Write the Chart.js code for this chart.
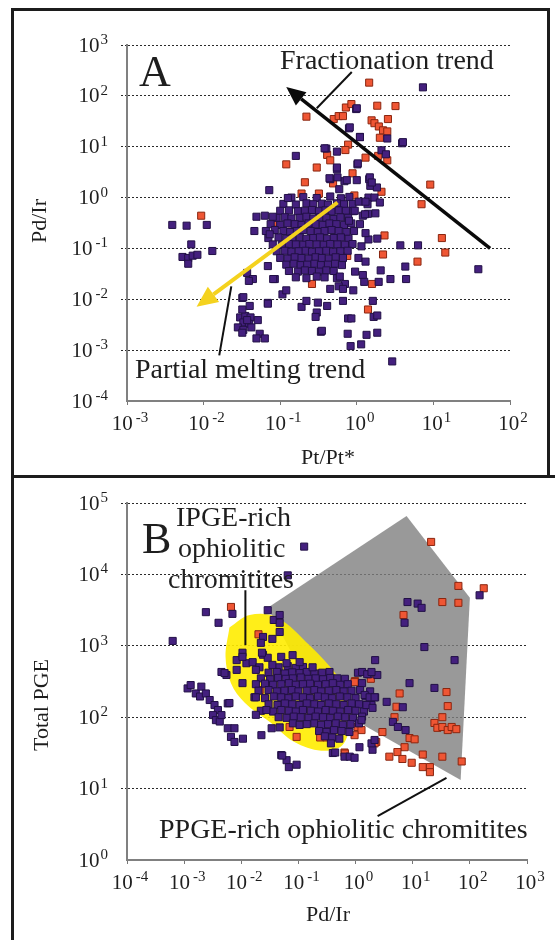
<!DOCTYPE html>
<html lang="en">
<head>
<meta charset="UTF-8">
<title>Pd/Ir vs Pt/Pt* and Total PGE vs Pd/Ir</title>
<script src="https://cdn.jsdelivr.net/npm/chart.js"></script>
<style>
  html, body { margin: 0; padding: 0; background: #fff; }
  #page { position: relative; width: 555px; height: 940px; overflow: hidden; }
  canvas { position: absolute; left: 0; }
  .rule { position: absolute; background: #1c1c1c; }
</style>
</head>
<body>
<div id="page">
  <canvas id="chartA" width="555" height="476" style="top:0"></canvas>
  <canvas id="chartB" width="555" height="462" style="top:478px"></canvas>
  <div class="rule" style="left:11px;top:8px;width:3px;height:932px"></div>
  <div class="rule" style="left:11px;top:8px;width:539px;height:3px"></div>
  <div class="rule" style="left:11px;top:475px;width:544px;height:3px"></div>
  <div class="rule" style="left:547px;top:8px;width:3px;height:468px"></div>
</div>

<script>
// ---- panel A: Pd/Ir against Pt/Pt* ----
const aXTicks = [1e-3, 1e-2, 1e-1, 1, 10, 100];
const aYTicks = [1e-4, 1e-3, 1e-2, 1e-1, 1, 10, 100, 1000];

const aPurple = [
  // dense core
  [0.14,1.0],[0.2,1.02],[0.3,0.98],[0.45,1.05],[0.62,0.97],[0.8,1.03],
  [0.11,0.75],[0.16,0.73],[0.22,0.77],[0.27,0.74],[0.35,0.76],[0.42,0.73],[0.55,0.77],[0.68,0.74],[0.88,0.75],
  [0.1,0.55],[0.13,0.56],[0.17,0.54],[0.21,0.55],[0.26,0.57],[0.32,0.54],[0.39,0.56],[0.47,0.53],[0.58,0.56],[0.72,0.55],[0.9,0.54],
  [0.09,0.4],[0.115,0.41],[0.14,0.39],[0.18,0.4],[0.22,0.42],[0.27,0.39],[0.33,0.41],[0.4,0.4],[0.5,0.38],[0.61,0.41],[0.77,0.4],
  [0.075,0.3],[0.1,0.29],[0.125,0.31],[0.155,0.3],[0.19,0.29],[0.235,0.31],[0.29,0.3],[0.36,0.29],[0.44,0.31],[0.54,0.3],[0.68,0.29],[0.85,0.31],
  [0.065,0.22],[0.085,0.23],[0.11,0.22],[0.135,0.21],[0.165,0.22],[0.2,0.23],[0.25,0.22],[0.31,0.21],[0.38,0.22],[0.47,0.23],[0.58,0.22],[0.73,0.21],[0.92,0.22],
  [0.07,0.16],[0.095,0.165],[0.12,0.155],[0.145,0.16],[0.18,0.165],[0.22,0.155],[0.27,0.16],[0.33,0.165],[0.41,0.155],[0.5,0.16],[0.62,0.165],[0.78,0.155],
  [0.08,0.12],[0.105,0.118],[0.13,0.122],[0.16,0.12],[0.2,0.118],[0.24,0.122],[0.3,0.12],[0.37,0.118],[0.45,0.122],[0.56,0.12],[0.7,0.118],[0.88,0.122],
  [0.09,0.088],[0.115,0.09],[0.14,0.086],[0.175,0.088],[0.215,0.09],[0.26,0.086],[0.32,0.088],[0.4,0.09],[0.49,0.086],[0.61,0.088],[0.76,0.09],
  [0.1,0.065],[0.125,0.063],[0.155,0.067],[0.19,0.065],[0.235,0.063],[0.29,0.067],[0.35,0.065],[0.43,0.063],[0.53,0.067],[0.66,0.065],
  [0.12,0.048],[0.15,0.05],[0.185,0.047],[0.225,0.048],[0.28,0.05],[0.34,0.047],[0.42,0.048],[0.52,0.05],[0.64,0.047],
  [0.13,0.036],[0.17,0.035],[0.21,0.037],[0.26,0.036],[0.32,0.035],[0.4,0.037],[0.5,0.036],
  [0.16,0.027],[0.22,0.026],[0.3,0.028],[0.38,0.027],[0.55,0.026],
  // upper spread
  [7.3,147],[0.98,55],[1.0,57],[0.79,23],[0.81,24],[1.1,15.6],[1.1,15.4],[2.5,14.5],[3.9,11.7],[4.0,12.3],
  [0.4,9.2],[0.38,9.3],[0.55,8.0],[2.1,8.5],[2.4,7.1],[0.16,6.6],[1.02,4.5],[1.03,4.7],[0.55,3.6],[0.55,3.9],
  [0.45,2.3],[0.69,2.1],[1.0,2.2],[1.45,2.3],[1.48,2.5],[0.44,2.4],[0.56,2.5],[0.74,2.2],[1.5,1.7],[1.83,1.58],[1.57,1.98],
  [0.59,1.46],[0.072,1.4],[0.126,0.98],[1.42,1.0],[1.7,1.0],[2.0,0.8],[1.38,0.74],[1.06,0.83],[1.3,0.83],
  [0.94,0.55],[1.2,0.44],[1.4,0.48],[0.79,0.35],[1.28,0.47],[1.75,0.49],
  // left groups
  [0.0039,0.29],[0.006,0.28],[0.011,0.29],[0.0069,0.12],[0.013,0.089],[0.0053,0.068],[0.0063,0.065],
  [0.0072,0.072],[0.0083,0.075],[0.0063,0.05],[0.049,0.42],[0.063,0.44],[0.08,0.42],[0.046,0.22],[0.073,0.19],
  [0.037,0.033],[0.044,0.025],[0.085,0.025],[0.069,0.0085],[0.032,0.0106],
  [0.03,0.0044],[0.035,0.0047],[0.041,0.0044],[0.051,0.0039],[0.033,0.0035],[0.039,0.0033],[0.028,0.0028],
  [0.033,0.0025],[0.042,0.0028],[0.032,0.0022],[0.037,0.0039],[0.054,0.0021],[0.063,0.0017],[0.049,0.0017],
  // right and lower spread
  [1.42,0.15],[1.85,0.156],[3.7,0.115],[6.3,0.115],[38.6,0.039],[4.3,0.044],[4.4,0.025],[2.75,0.025],
  [2.05,0.037],[1.93,0.022],[0.069,0.045],[0.081,0.025],[0.039,0.023],[0.107,0.0125],[0.12,0.015],
  [0.033,0.011],[0.069,0.0082],[0.04,0.0074],[0.032,0.0063],[0.19,0.0071],[0.22,0.0093],[0.31,0.0086],
  [0.3,0.0055],[0.41,0.0074],[0.29,0.0045],[0.34,0.0023],[0.66,0.0093],[0.77,0.0042],[0.85,0.0042],
  [0.76,0.0021],[0.83,0.0012],[1.14,0.0013],[1.34,0.002],[1.85,0.0022],[1.66,0.0045],[1.85,0.0048],
  [1.62,0.0093],[2.9,0.0006],[0.35,0.0024],
  [1.1,0.3],[1.3,0.2],[1.15,0.11],[1.05,0.065],[1.3,0.055],[0.95,0.035],[1.2,0.03],[0.7,0.02],
  [0.58,0.018],[0.9,0.015],[0.45,0.016],[0.66,0.016],[1.25,0.022],[0.6,0.028]
];

const aRed = [
  [1.45,182],[0.22,39],[0.5,35],[0.58,40],[0.66,40],[0.72,59],[0.85,69],[1.85,64],[3.2,63],
  [1.56,33],[1.7,29],[1.94,25],[2.2,21],[2.55,35],[2.5,20],[2.0,15],[0.77,11],[0.41,6.9],
  [0.45,5.4],[0.3,3.9],[0.12,4.5],[0.71,8.6],[1.3,6.1],[1.9,6.6],[2.5,5.4],[0.88,3.0],[0.21,2.0],
  [0.49,1.9],[9.1,1.8],[2.1,1.3],[0.93,1.1],[0.19,1.2],[0.32,1.2],[7.0,0.74],[0.0093,0.44],
  [0.087,0.32],[0.14,0.31],[2.3,0.18],[12.9,0.16],[14.3,0.083],[2.2,0.076],[0.75,0.071],
  [6.2,0.055],[1.58,0.02],[0.26,0.02],[1.4,0.0063]
];

// trend arrows and leader lines, in data units [Pt/Pt*, Pd/Ir]
const aFractionArrow = [[55, 0.1], [0.12, 149]];
const aMeltArrow = [[0.56, 0.8], [0.0081, 0.0071]];
const aFractionLeader = [[0.86, 295], [0.30, 57]];
const aMeltLeader = [[0.023, 0.018], [0.016, 0.00079]];

// ---- panel B: Total PGE against Pd/Ir ----
const bXTicks = [1e-4, 1e-3, 1e-2, 1e-1, 1, 10, 100, 1000];
const bYTicks = [1, 10, 100, 1000, 1e4, 1e5];

const bPurple = [
  // dense core
  [0.045,500],[0.065,520],[0.09,490],[0.12,505],
  [0.03,420],[0.042,430],[0.058,410],[0.078,425],[0.105,415],[0.14,430],[0.19,410],[0.26,420],[0.35,430],[1.1,420],[1.7,400],[2.4,390],
  [0.022,350],[0.032,340],[0.044,355],[0.06,345],[0.08,350],[0.11,360],[0.15,345],[0.2,350],[0.27,340],[0.36,355],[0.48,350],[0.65,345],
  [0.018,290],[0.026,295],[0.036,285],[0.05,290],[0.068,300],[0.09,285],[0.12,290],[0.16,295],[0.22,285],[0.3,290],[0.4,300],[0.54,285],[0.73,290],[1.3,300],
  [0.02,235],[0.03,240],[0.042,230],[0.057,235],[0.077,240],[0.1,230],[0.14,235],[0.19,240],[0.25,230],[0.34,235],[0.46,240],[0.62,230],[0.85,235],[1.2,240],[1.8,230],
  [0.017,190],[0.026,185],[0.037,195],[0.05,190],[0.067,185],[0.09,195],[0.12,190],[0.16,185],[0.22,195],[0.29,190],[0.39,185],[0.53,195],[0.72,190],[1.0,185],[1.5,195],[2.2,190],
  [0.03,152],[0.043,148],[0.058,156],[0.078,152],[0.105,148],[0.14,156],[0.19,152],[0.25,148],[0.34,156],[0.46,152],[0.62,148],[0.85,156],[1.15,152],[1.9,148],
  [0.022,123],[0.036,120],[0.05,126],[0.068,123],[0.09,120],[0.12,126],[0.165,123],[0.22,120],[0.3,126],[0.4,123],[0.54,120],[0.74,126],[1.0,123],[1.4,120],
  [0.045,100],[0.062,98],[0.083,102],[0.11,100],[0.15,98],[0.2,102],[0.27,100],[0.36,98],[0.49,102],[0.66,100],[0.9,98],[1.3,102],
  [0.08,82],[0.105,78],[0.14,80],[0.19,82],[0.25,78],[0.33,80],[0.45,82],[0.6,78],[0.82,80],[1.15,82],
  [0.23,64],[0.31,62],[0.42,66],[0.57,64],[0.78,62],
  [0.29,54],[0.39,52],[0.52,50],
  [0.37,43],
  // inside the yellow field
  [0.0105,800],[0.0083,630],[0.0123,570],[0.024,750],[0.0158,590],[0.0208,500],[0.029,680],[0.035,540],
  [0.05,700],[0.062,570],[0.079,740],[0.105,590],[0.177,500],[0.0105,700],[0.023,800],[0.018,460],
  [0.0083,460],[0.0105,300],[0.018,190],[0.0275,126],[0.018,108],[0.0225,56],[0.034,70],[0.047,72],
  [0.05,29.5],[0.062,25],[0.093,21.6],
  // left tail
  [0.00115,253],[0.0013,282],[0.0016,215],[0.002,268],[0.0019,195],[0.0024,215],[0.0028,174],
  [0.0034,148],[0.0039,126],[0.0032,107],[0.0036,91],[0.0042,87],[0.0045,107],[0.0058,70],
  [0.0076,70],[0.0066,53],[0.0076,45],[0.0107,50],[0.0058,156],[0.0055,390],[0.0045,430],[0.0051,415],
  [0.0062,158],
  // upper scatter
  [0.126,24500],[0.065,9700],[0.00063,1170],[0.0024,2960],[0.004,2100],[0.007,2800],[0.029,3150],
  [0.037,2300],[0.047,2700],[0.047,2100],[0.047,1560],[0.035,1250],[0.024,1330],[0.022,1100],
  [8.1,4100],[12.2,3900],[14.3,3400],[7.2,2100],[148,5100],[16,960],[54,630],[2.2,630],
  // right side
  [8.8,300],[24,257],[3.5,164],[6.7,138],[4.5,86],[5.5,73],[7.5,66],
  [1.3,430],[1.6,400],[1.9,430],[1.44,205],[1.76,190],[2.15,190],[1.55,148],[1.98,135],[1.27,91],
  [0.4,31.5],[0.44,32],[0.64,28],[0.79,28],[0.96,27],[1.98,35],[1.17,38],[1.9,43],[2.15,48],
  [0.068,20],[0.052,29]
];

const bRed = [
  [21,28500],[63,6900],[175,6400],[33,4100],[63,4000],[6.9,2700],[0.0066,3500],[0.02,1450],
  [0.98,320],[1.85,345],[0.021,240],[0.96,310],[5.9,215],[39,225],[41,143],[5.2,140],[4.8,100],[33,100],
  [24,83],[27,71],[33,73],[41,66],[48,73],[58,68],[2.95,62],[1.08,73],[1.27,66],[0.96,56],
  [8.8,51],[10.8,49],[7.2,38],[5.4,32.5],[2.3,45],[2.15,43],[3.9,28],[6.6,26],[9.6,23],[15,30],
  [33,28],[72,24],[15,20],[20,20],[20,17],[0.64,32],[1.8,190],
  [0.24,52],[0.093,53],[0.07,73],[0.34,60],[0.31,52],[0.65,31]
];

// fields, in data units [Pd/Ir, Total PGE]
const bPpgeField = [[0.029,3400],[7.8,66000],[100,4700],[69,13.2],[0.96,91],[0.105,490],[0.029,3400]];
const bIpgeField = [[0.0062,1800],[0.014,2700],[0.042,2500],[0.16,1000],[0.5,370],[0.8,200],[0.82,90],
  [0.58,40],[0.25,34],[0.085,45],[0.032,85],[0.0115,160],[0.0066,300],[0.0053,700],[0.0062,1800]];
const bIpgeLeader = [[0.0118, 6000], [0.0118, 1020]];
const bPpgeLeader = [[2.43, 4.1], [39, 14.1]];

const SERIF = '"Liberation Serif", "DejaVu Serif", serif';
const INK = '#1e1e1e';

function powLabel(ctx, v, x, y, mode) {
  const e = Math.round(Math.log10(v));
  const es = e < 0 ? '-' + (-e) : String(e);
  ctx.font = '21px ' + SERIF;
  const wb = ctx.measureText('10').width;
  ctx.font = '15px ' + SERIF;
  const we = ctx.measureText(es).width;
  const gap = e < 0 ? 3 : 1;
  const w = wb + gap + we;
  const x0 = mode === 'center' ? x - w / 2 : x - w;
  ctx.textAlign = 'left';
  ctx.font = '21px ' + SERIF;
  ctx.textBaseline = 'middle';
  ctx.fillText('10', x0, y);
  ctx.font = '15px ' + SERIF;
  ctx.textBaseline = 'alphabetic';
  ctx.fillText(es, x0 + wb + gap, y - 2);
}

function drawArrow(ctx, a, b, color, width, headLen, headW) {
  const ang = Math.atan2(b[1] - a[1], b[0] - a[0]);
  const bx = b[0] - Math.cos(ang) * headLen, by = b[1] - Math.sin(ang) * headLen;
  ctx.strokeStyle = color;
  ctx.fillStyle = color;
  ctx.lineWidth = width;
  ctx.beginPath();
  ctx.moveTo(a[0], a[1]);
  ctx.lineTo(bx, by);
  ctx.stroke();
  const nx = -Math.sin(ang) * headW / 2, ny = Math.cos(ang) * headW / 2;
  ctx.beginPath();
  ctx.moveTo(b[0], b[1]);
  ctx.lineTo(bx + nx, by + ny);
  ctx.lineTo(bx - nx, by - ny);
  ctx.closePath();
  ctx.fill();
}

function decor(spec) {
  return {
    id: 'decor',
    afterDatasetsDraw(chart) {
      const {ctx, scales: {x, y}} = chart;
      const P = p => [x.getPixelForValue(p[0]), y.getPixelForValue(p[1])];
      ctx.save();
      spec.leaders.forEach(l => {
        ctx.strokeStyle = '#111';
        ctx.lineWidth = 2;
        ctx.beginPath();
        ctx.moveTo(...P(l[0]));
        ctx.lineTo(...P(l[1]));
        ctx.stroke();
      });
      spec.arrows.forEach(ar => drawArrow(ctx, P(ar.line[0]), P(ar.line[1]), ar.color, ar.width, ar.headLen, ar.headW));
      ctx.restore();
    },
    afterDraw(chart) {
      const {ctx, chartArea, scales: {x, y}} = chart;
      ctx.save();
      ctx.fillStyle = INK;
      spec.xTicks.forEach(v => powLabel(ctx, v, x.getPixelForValue(v) + 3, chartArea.bottom + 23, 'center'));
      spec.yTicks.forEach(v => powLabel(ctx, v, 108, y.getPixelForValue(v) + 1, 'right'));
      ctx.font = '22px ' + SERIF;
      ctx.textAlign = 'center';
      ctx.textBaseline = 'middle';
      ctx.fillText(spec.xTitle.t, spec.xTitle.x, spec.xTitle.y);
      ctx.save();
      ctx.translate(spec.yTitle.x, spec.yTitle.y);
      ctx.rotate(-Math.PI / 2);
      ctx.fillText(spec.yTitle.t, 0, 0);
      ctx.restore();
      ctx.textAlign = 'left';
      ctx.textBaseline = 'alphabetic';
      spec.texts.forEach(t => {
        ctx.font = t.size + 'px ' + SERIF;
        ctx.fillText(t.t, t.x, t.y);
      });
      ctx.restore();
    }
  };
}

function logAxis(min, max, ticks, isY) {
  return {
    type: 'logarithmic',
    min: min,
    max: max,
    afterBuildTicks: s => { s.ticks = ticks.map(v => ({value: v})); },
    ticks: {display: false},
    grid: isY ? {
      drawOnChartArea: true,
      drawTicks: true,
      tickLength: 6,
      lineWidth: 1,
      color: c => (c.tick && c.tick.value === min) ? 'rgba(0,0,0,0)' : '#2a2a2a',
      tickColor: c => (c.tick && c.tick.value === min) ? 'rgba(0,0,0,0)' : '#2a2a2a',
      tickBorderDash: [2, 2]
    } : {
      drawOnChartArea: false,
      drawTicks: true,
      tickLength: 4,
      color: '#777'
    },
    border: {display: true, color: '#808080', width: 2, dash: isY ? [2, 2] : []}
  };
}

const purpleStyle = {backgroundColor: '#44207e', borderColor: '#221046', borderWidth: 1, pointStyle: 'rect', pointRadius: 5, order: 0};
const redStyle = {backgroundColor: '#ef5634', borderColor: '#8a2610', borderWidth: 1, pointStyle: 'rect', pointRadius: 5, order: 1};
const toXY = arr => arr.map(p => ({x: p[0], y: p[1]}));

new Chart(document.getElementById('chartA'), {
  type: 'scatter',
  data: {
    datasets: [
      Object.assign({label: 'PPGE-rich', data: toXY(aRed)}, redStyle),
      Object.assign({label: 'IPGE-rich', data: toXY(aPurple)}, purpleStyle)
    ]
  },
  options: {
    responsive: false,
    animation: false,
    events: [],
    layout: {padding: {left: 121, right: 45, top: 45, bottom: 71}},
    plugins: {legend: {display: false}, tooltip: {enabled: false}},
    scales: {
      x: logAxis(1e-3, 1e2, aXTicks, false),
      y: logAxis(1e-4, 1e3, aYTicks, true)
    }
  },
  plugins: [decor({
    xTicks: aXTicks, yTicks: aYTicks,
    xTitle: {t: 'Pt/Pt*', x: 328, y: 458},
    yTitle: {t: 'Pd/Ir', x: 40, y: 221},
    leaders: [aFractionLeader, aMeltLeader],
    arrows: [
      {line: aFractionArrow, color: '#0a0a0a', width: 3.5, headLen: 19, headW: 17},
      {line: aMeltArrow, color: '#f4d21e', width: 4, headLen: 21, headW: 19}
    ],
    texts: [
      {t: 'A', x: 139, y: 86, size: 44},
      {t: 'Fractionation trend', x: 280, y: 69, size: 28},
      {t: 'Partial melting trend', x: 135, y: 378, size: 28}
    ]
  })]
});

new Chart(document.getElementById('chartB'), {
  type: 'scatter',
  data: {
    datasets: [
      {label: 'PPGE field', data: toXY(bPpgeField), showLine: true, fill: 'shape', tension: 0,
       backgroundColor: 'rgba(128,128,128,0.8)', borderWidth: 0, pointRadius: 0, order: 3},
      {label: 'IPGE field', data: toXY(bIpgeField), showLine: true, fill: 'shape', tension: 0.35,
       backgroundColor: 'rgba(255,236,0,0.9)', borderWidth: 0, pointRadius: 0, order: 2},
      Object.assign({label: 'PPGE-rich', data: toXY(bRed)}, redStyle),
      Object.assign({label: 'IPGE-rich', data: toXY(bPurple)}, purpleStyle)
    ]
  },
  options: {
    responsive: false,
    animation: false,
    events: [],
    layout: {padding: {left: 121, right: 28, top: 25, bottom: 76}},
    plugins: {legend: {display: false}, tooltip: {enabled: false}},
    scales: {
      x: logAxis(1e-4, 1e3, bXTicks, false),
      y: logAxis(1, 1e5, bYTicks, true)
    }
  },
  plugins: [decor({
    xTicks: bXTicks, yTicks: bYTicks,
    xTitle: {t: 'Pd/Ir', x: 328, y: 437},
    yTitle: {t: 'Total PGE', x: 42, y: 227},
    leaders: [bIpgeLeader, bPpgeLeader],
    arrows: [],
    texts: [
      {t: 'B', x: 142, y: 75, size: 44},
      {t: 'IPGE-rich', x: 176, y: 48, size: 28},
      {t: 'ophiolitic', x: 178, y: 79, size: 28},
      {t: 'chromitites', x: 168, y: 110, size: 28},
      {t: 'PPGE-rich ophiolitic chromitites', x: 159, y: 360, size: 28}
    ]
  })]
});
</script>
</body>
</html>
